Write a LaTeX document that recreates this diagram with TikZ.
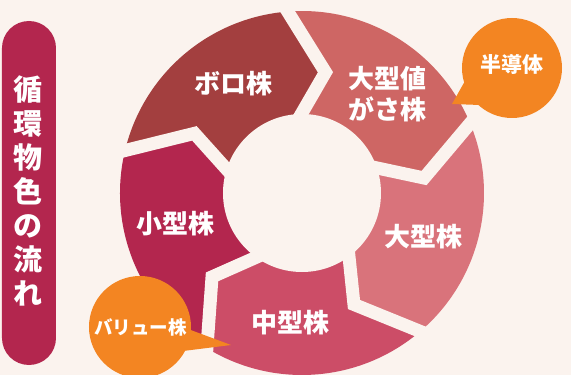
\documentclass[tikz,border=0pt]{standalone}
\usepackage{fontspec}
\newfontfamily\jp{Noto Sans CJK JP}
\usetikzlibrary{calc}
\definecolor{bg}{HTML}{FBF3EE}
\definecolor{crim}{HTML}{B3264E}
\definecolor{boro}{HTML}{A33F3F}
\definecolor{ognc}{HTML}{CE6664}
\definecolor{ogkc}{HTML}{D9737B}
\definecolor{chkc}{HTML}{CC4D67}
\definecolor{orng}{HTML}{F38522}
\begin{document}
\begin{tikzpicture}[x=1pt,y=1pt,
  gapline/.style={draw=bg,line width=13pt,line join=miter},
  lbl/.style={text=white,font=\jp\bfseries\fontsize{26}{31.5}\selectfont,inner sep=0pt,align=center}]
\useasboundingbox (-302,-182) rectangle (269,193);
\fill[bg] (-302,-182) rectangle (269,193);
% title bar
\fill[crim, rounded corners=27pt] (-300,-172) rectangle (-246,172);
\node[lbl, font=\jp\bfseries\fontsize{29}{34}\selectfont] (title) at (-274,2) {循\\環\\物\\色\\の\\流\\れ};
% boundary points
\foreach \n/\t in {b1/92,b2/20,b3/-52,b4/-124,b5/164}{
  \coordinate (\n o) at ({\t+2.5}:182);
  \coordinate (\n t) at ({\t-13}:123);
  \coordinate (\n i) at ({\t-1.5}:79);
}
% ring segments
\fill[ognc] (0,0) -- (b1i) -- (b1t) -- (b1o) arc[start angle=94.5, end angle=22.5, radius=182pt] -- (b2t) -- (b2i) -- cycle;
\fill[ogkc] (0,0) -- (b2i) -- (b2t) -- (b2o) arc[start angle=22.5, end angle=-49.5, radius=182pt] -- (b3t) -- (b3i) -- cycle;
\fill[chkc] (0,0) -- (b3i) -- (b3t) -- (b3o) arc[start angle=-49.5, end angle=-121.5, radius=182pt] -- (b4t) -- (b4i) -- cycle;
\fill[crim] (0,0) -- (b4i) -- (b4t) -- (b4o) arc[start angle=-121.5, end angle=-193.5, radius=182pt] -- (b5t) -- (b5i) -- cycle;
\fill[boro] (0,0) -- (b5i) -- (b5t) -- (b5o) arc[start angle=166.5, end angle=94.5, radius=182pt] -- (b1t) -- (b1i) -- cycle;
% hole
\fill[bg] (0,0) circle[radius=79pt];
% gaps
\foreach \n in {b1,b2,b3,b4,b5}{
  \draw[gapline] ($(\n t)!1.4!(\n i)$) -- (\n t) -- ($(\n t)!1.3!(\n o)$);
}
% labels
\node[lbl] (boroL) at (-68.5,109.5) {ボロ株};
\node[lbl] (ognL) at (86,98.75) {大型値\\がさ株};
\node[lbl] (ogkL) at (122,-44) {大型株};
\node[lbl] (chkL) at (-11,-130) {中型株};
\node[lbl] (shkL) at (-126,-31) {小型株};
% bubbles
\fill[orng] (210,125) circle[radius=50pt];
\fill[orng] (150,89) -- (163,112) -- (178,88) -- cycle;
\node[lbl, font=\jp\bfseries\fontsize{21}{25}\selectfont] (semi) at (210,129) {半導体};
\fill[orng] (-162,-134) circle[radius=51pt];
\fill[orng] (-71,-152) -- (-114,-136) -- (-119,-158) -- cycle;
\node[lbl, font=\jp\bfseries\fontsize{18.5}{22}\selectfont] (value) at (-161.5,-134.5) {バリュー株};
\end{tikzpicture}
\end{document}
